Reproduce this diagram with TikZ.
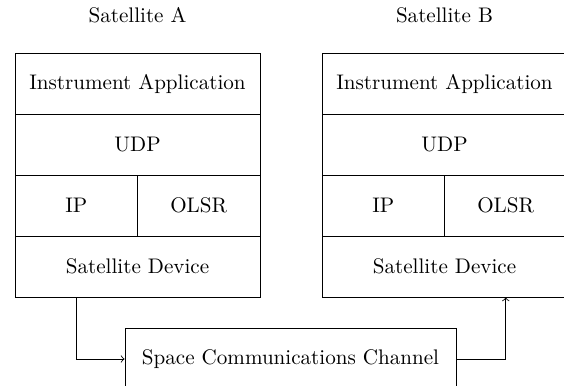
\documentclass[tikz,border=0pt]{standalone}
\begin{document}
\begin{tikzpicture}[x=0.474pt,y=-0.474pt,
  cell/.style={draw,rectangle,minimum height=61*0.474pt,inner sep=0pt},
  full/.style={cell,minimum width=245*0.474pt},
  half/.style={cell,minimum width=122.5*0.474pt},
  title/.style={inner sep=0pt},
  link/.style={->}]
\useasboundingbox (0,0) rectangle (564,386);
% Satellite A
\node[title] (tA) at (137.5,15) {Satellite A};
\node[full] (aApp) at (137.5,83.5) {Instrument Application};
\node[full] (aUdp) at (137.5,144.5) {UDP};
\node[half] (aIp) at (76.25,205.5) {IP};
\node[half] (aOlsr) at (198.75,205.5) {OLSR};
\node[full] (aDev) at (137.5,266.5) {Satellite Device};
% Satellite B
\node[title] (tB) at (444.5,15) {Satellite B};
\node[full] (bApp) at (444.5,83.5) {Instrument Application};
\node[full] (bUdp) at (444.5,144.5) {UDP};
\node[half] (bIp) at (383.25,205.5) {IP};
\node[half] (bOlsr) at (505.75,205.5) {OLSR};
\node[full] (bDev) at (444.5,266.5) {Satellite Device};
% Channel
\node[cell,minimum width=331*0.474pt,minimum height=62*0.474pt] (chan) at (290.5,359) {Space Communications Channel};
\draw[link] (aIp |- aDev.south) |- (chan.west);
\draw[link] (chan.east) -| (bOlsr |- bDev.south);
\end{tikzpicture}
\end{document}
